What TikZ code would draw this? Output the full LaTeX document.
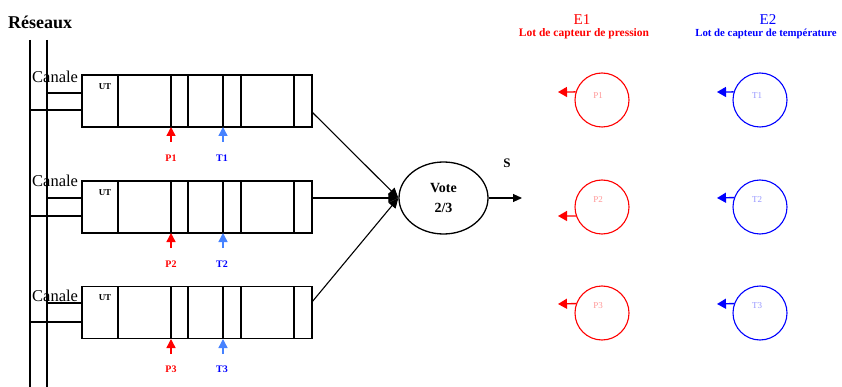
\documentclass[tikz,border=0pt]{standalone}
\usepackage{fontspec}
\setmainfont{Liberation Serif}
\usetikzlibrary{shapes.geometric,arrows.meta}
\definecolor{pred}{RGB}{255,0,0}
\definecolor{tblue}{RGB}{0,0,255}
\definecolor{tarr}{RGB}{70,130,255}
\definecolor{pfade}{RGB}{255,150,150}
\definecolor{tfade}{RGB}{150,150,255}
\begin{document}
\begin{tikzpicture}[x=1pt,y=-1pt,
  utbox/.style={draw, line width=1.6pt, minimum width=230pt, minimum height=52pt, inner sep=0pt},
  ln/.style={line width=1.1pt},
  conn/.style={line width=1.1pt, -{Triangle[length=10pt,width=9pt]}},
  senarr/.style={line width=1.4pt, -{Triangle[length=9pt,width=10pt]}},
  canale/.style={anchor=west, inner sep=0pt, font=\fontsize{16.5}{16.5}\selectfont},
  utlab/.style={inner sep=0pt, font=\bfseries\fontsize{9}{9}\selectfont},
  plab/.style={inner sep=0pt, text=pred, font=\bfseries\fontsize{10}{10}\selectfont},
  tlab/.style={inner sep=0pt, text=tblue, font=\bfseries\fontsize{10}{10}\selectfont},
  pcirc/.style={circle, draw=pred, line width=1.1pt, minimum size=54pt, inner sep=0pt},
  tcirc/.style={circle, draw=tblue, line width=1.1pt, minimum size=54pt, inner sep=0pt},
  cfont/.style={inner sep=0pt, font=\fontsize{9}{9}\selectfont}
]
\useasboundingbox (0,0) rectangle (842,387);
% title
\node[anchor=west, inner sep=0pt, font=\bfseries\fontsize{18}{18}\selectfont] (res) at (8,22) {Réseaux};
% bus
\draw[ln] (30,40) -- (30,387);
\draw[ln] (47,40) -- (47,387);
% boxes
\node[utbox] (b1) at (197,101) {};
\node[utbox] (b2) at (197,207) {};
\node[utbox] (b3) at (197,312.5) {};
\foreach \t/\b in {75/127,181/233,286/339}{
  \foreach \x in {118,171,188,223,241,294}
    \draw[ln] (\x,\t) -- (\x,\b);
}
% UT labels
\node[utlab] (ut1) at (105,87) {UT};
\node[utlab] (ut2) at (105,193) {UT};
\node[utlab] (ut3) at (105,298) {UT};
% Canale labels
\node[canale] (can1) at (32,77) {Canale};
\node[canale] (can2) at (32,181) {Canale};
\node[canale] (can3) at (32,296) {Canale};
% bus connections
\coordinate (a1) at (47,93);  \coordinate (a2) at (30,110);
\coordinate (a3) at (47,198); \coordinate (a4) at (30,216);
\coordinate (a5) at (47,303); \coordinate (a6) at (30,322);
\draw[ln] (a1) -- (a1 -| b1.west);
\draw[ln] (a2) -- (a2 -| b1.west);
\draw[ln] (a3) -- (a3 -| b2.west);
\draw[ln] (a4) -- (a4 -| b2.west);
\draw[ln] (a5) -- (a5 -| b3.west);
\draw[ln] (a6) -- (a6 -| b3.west);
% sensor arrows under boxes
\foreach \i/\b/\ly in {1/127/158,2/233/264,3/339/369}{
  \coordinate (pa\i) at (171,\b+15);
  \coordinate (ta\i) at (223,\b+15);
  \draw[line width=1.4pt, pred, -{Triangle[length=9pt,width=9pt]}] (pa\i) -- (171,\b);
  \draw[line width=1.4pt, tarr, -{Triangle[length=9pt,width=9pt]}] (ta\i) -- (223,\b);
  \node[plab] (pl\i) at (171,\ly) {P\i};
  \node[tlab] (tl\i) at (222,\ly) {T\i};
}
% vote
\node[ellipse, draw, line width=1.3pt, minimum width=89pt, minimum height=72pt, inner sep=0pt,
      align=center, font=\bfseries\fontsize{14}{20}\selectfont] (vote) at (443.5,198) {Vote\\2/3};
\coordinate (o1) at (312,112);
\coordinate (o2) at (312,198);
\coordinate (o3) at (312,302);
\draw[conn] (o1) -- (vote.west);
\draw[conn] (o2) -- (vote.west);
\draw[conn] (o3) -- (vote.west);
\coordinate (sout) at (522,198);
\draw[line width=1.1pt, -{Triangle[length=9pt,width=8pt]}] (vote.east) -- (sout);
\node[inner sep=0pt, font=\bfseries\fontsize{13}{13}\selectfont] (s) at (507,163) {S};
% E1 / E2 headers
\node[inner sep=0pt, text=pred, font=\fontsize{15}{15}\selectfont] (e1) at (582,20) {E1};
\node[inner sep=0pt, text=pred, font=\bfseries\fontsize{11.5}{11.5}\selectfont] (e1s) at (584,34) {Lot de capteur de pression};
\node[inner sep=0pt, text=tblue, font=\fontsize{15}{15}\selectfont] (e2) at (768,20) {E2};
\node[inner sep=0pt, text=tblue, font=\bfseries\fontsize{10.8}{10.8}\selectfont] (e2s) at (766,34) {Lot de capteur de température};
% sensor circles
\node[pcirc] (p1) at (602,100) {};
\node[pcirc] (p2) at (602,207) {};
\node[pcirc] (p3) at (602,313) {};
\node[tcirc] (t1) at (760,100) {};
\node[tcirc] (t2) at (760,207) {};
\node[tcirc] (t3) at (760,313) {};
\node[cfont, text=pfade] (p1l) at (598,96) {P1};
\node[cfont, text=pfade] (p2l) at (598,200) {P2};
\node[cfont, text=pfade] (p3l) at (598,306) {P3};
\node[cfont, text=tfade] (t1l) at (757,96) {T1};
\node[cfont, text=tfade] (t2l) at (757,200) {T2};
\node[cfont, text=tfade] (t3l) at (757,306) {T3};
\coordinate (p1o) at (558,92);
\coordinate (p2o) at (558,216);
\coordinate (p3o) at (558,304);
\coordinate (t1o) at (717,92);
\coordinate (t2o) at (717,198);
\coordinate (t3o) at (717,304);
\draw[senarr, pred] (p1.163) -- (p1o);
\draw[senarr, pred] (p2.199) -- (p2o);
\draw[senarr, pred] (p3.160) -- (p3o);
\draw[senarr, tblue] (t1.163) -- (t1o);
\draw[senarr, tblue] (t2.160) -- (t2o);
\draw[senarr, tblue] (t3.160) -- (t3o);
\end{tikzpicture}
\end{document}
